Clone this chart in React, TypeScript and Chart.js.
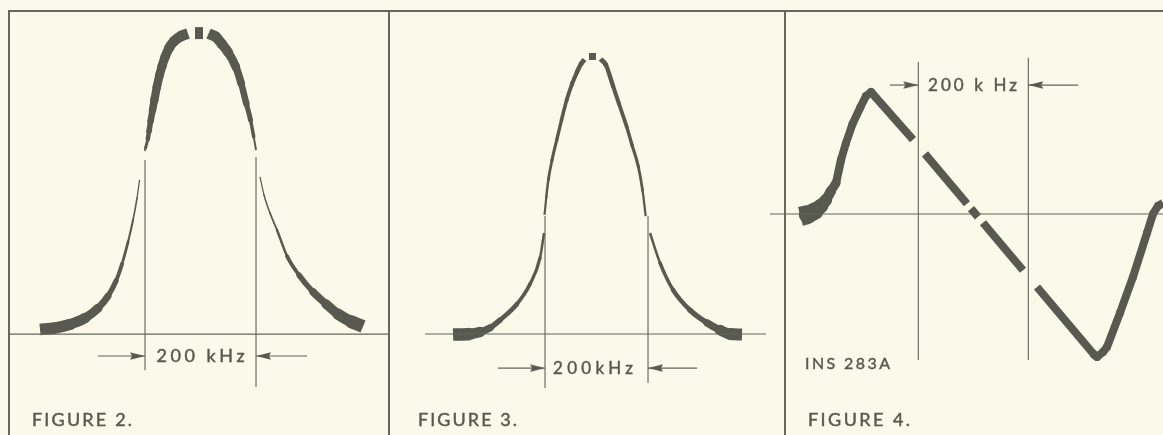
import React, { useEffect, useRef } from "react";
import { Chart, registerables } from "chart.js";

Chart.register(...registerables);

const BG = "#fbf9ea";
const INK = "#585950";
const RULE = "#63645a";
const FONT = "Lato, 'Open Sans', sans-serif";

// ---------- FIGURE 2 : response curve (kHz from centre, % of peak); null = break in the trace
const fig2Freq = [-289.2, -262.2, -235.1, -208.1, -184.7, -166.7, -152.3, -141.4, -130.6, -121.6, -114.4, -109.9, -105, -100.5, -99.1, -95.0, -92.8, -89.9, -86.5, -83.2, -78.7, -73.9, -69.4, -64.0, -56.8, -47.7, -35.1, -22.5, -16, -9.9, 4.5, 9.5, 14.4, 27.9, 38.7, 49.5, 63.6, 73.3, 82.5, 90.1, 95.9, 100, 104, 107.2, 114.4, 125.2, 137.8, 155.9, 177.5, 202.7, 226.1, 247.7, 269.4, 292.8];
const fig2Level = [1.5, 2.0, 3.2, 5.3, 8.6, 12.6, 17.6, 23.3, 30.6, 37.9, 45.2, 51.2, null, 60.8, 61.8, 64.8, 67.4, 70.8, 74.4, 77.7, 82.1, 86.0, 89.0, 92.0, 95.0, 97.3, 99.0, 99.8, null, 100, 100, null, 99.8, 98.7, 96.3, 93.7, 88.8, 83.3, 76.6, 71.1, 65.5, 61.1, null, 52.2, 46.2, 40.2, 34.6, 25.9, 19.6, 14.0, 10.0, 6.6, 4.3, 2.5];
const fig2Weight = [11.5, 11.5, 11, 10, 8, 6, 4.5, 3.2, 2.3, 1.8, 1.4, 1.1, 0, 1.2, 2, 4, 5, 6, 7, 8, 8.5, 8.5, 9, 9, 9.5, 10, 10.5, 11, 0, 12, 12, 0, 11, 10.5, 10, 9.5, 8, 7.3, 5.8, 4.3, 2.7, 1.2, 0, 1.1, 1.3, 1.6, 2, 3, 4.5, 6.5, 8.5, 10.5, 12, 14];
const fig2Markers = [-100, 100];
const fig2MarkerTop = [57.8, 58.8];
const fig2MarkerBottom = [-12, -17.6];
const fig2Axis = [-345, 338];
const fig2ArrowFrom = [-185, 192];
const fig2ArrowLevel = -7.3;

// ---------- FIGURE 3
const fig3Freq = [-278.6, -245.6, -226.2, -206.8, -187.4, -154.4, -129.1, -109.7, -101.9, -101.5, -101.0, -97.5, -93.6, -86.4, -77.3, -68.0, -57.9, -47.6, -37.9, -30.1, -23.3, -18.5, -14.6, -1, 3.4, 7.8, 18.4, 32.0, 43.7, 58.6, 68.9, 81.2, 89.3, 95.5, 99.7, 103.9, 123.3, 148.5, 181.5, 214.6, 239.8, 259.2, 282.5];
const fig3Level = [-0.2, 0, 0.7, 2.2, 5, 10.8, 18, 27.4, 36.4, null, 42.9, 49.4, 55.5, 62.7, 69.9, 77.1, 84.3, 90.1, 94.4, 97.3, 98.9, null, 100, 100, null, 99.1, 96.9, 89.4, 82.9, 74.7, 68.1, 60.3, 51.9, 42.5, null, 36.4, 25.6, 15.9, 8.6, 4, 1.4, 0, -0.2];
const fig3Weight = [13, 12, 9, 6, 5, 4, 3.5, 3, 2, 0, 2, 2.3, 2.6, 3, 3.2, 3.5, 3.7, 4, 4.3, 4.6, 5, 0, 7, 7, 0, 5, 4.6, 4.2, 3.9, 3.6, 3.3, 3, 2.5, 2, 0, 2, 3, 4, 5, 6, 9, 12, 12];
const fig3Markers = [-100, 100];
const fig3MarkerTop = [42.5, 42.5];
const fig3MarkerBottom = [-19.5, -17.7];
const fig3Axis = [-333, 329];
const fig3ArrowFrom = [-191.3, 195.1];
const fig3ArrowLevel = -12.3;

// ---------- FIGURE 4 : discriminator S-curve
const fig4Freq = [-314.2, -300.5, -287.8, -276.9, -267.8, -258.7, -249.6, -240.5, -231.5, -219.6, -205.1, -195.1, -186.0, -109.6, -103, -87.8, -11.5, -8, -4.2, 8.5, 13, 17.6, 90.4, 103, 115.8, 219.4, 224.9, 235.8, 243.1, 266.7, 290.3, 315.8, 326.7, 335.8, 344.9];
const fig4Level = [-2.0, -0.4, 2.5, 6.6, 11.5, 18.9, 25.4, 44.3, 58.2, 73.8, 87.7, 96.7, 100, 60.9, null, 49.3, 8.4, null, 4.4, -2.4, null, -7.2, -46.1, null, -59.8, -115.2, -117.2, -113.1, -109, -81.1, -51.6, -15.6, 0, 6.6, 9];
const fig4Weight = [20, 18.5, 16, 13.5, 11, 9.5, 8.5, 8, 8, 8, 8, 8, 8, 8, 0, 8, 8, 0, 8, 8, 0, 8, 8, 0, 8, 8, 8, 8, 8, 8, 8, 8, 8, 8, 8];
const fig4Markers = [-100, 100];
const fig4MarkerTop = [124.6, 127.9];
const fig4MarkerBottom = [-119.7, -119.7];
const fig4Axis = [-369.6, 344.9];
const fig4ArrowFrom = [-151.4, 190.3];
const fig4ArrowLevel = 105.7;

type TextItem = {
  text: string;
  size: number;
  width: number;
  x?: number;
  y?: number;
  left?: number;
  baseline?: number;
};

function makeTextPlugin(items: TextItem[]) {
  return {
    id: "figureText",
    afterDatasetsDraw(chart: any) {
      const ctx = chart.ctx;
      const xs = chart.scales.x;
      const ys = chart.scales.y;
      for (const t of items) {
        ctx.save();
        ctx.font = `400 ${t.size}px ${FONT}`;
        ctx.fillStyle = INK;
        ctx.strokeStyle = INK;
        ctx.lineWidth = 0.45;
        ctx.textAlign = "left";
        ctx.textBaseline = "alphabetic";
        try { ctx.letterSpacing = "0px"; } catch (e) {}
        const plain = ctx.measureText(t.text).width;
        const gaps = t.text.length - 1;
        const spacing = gaps > 0 ? (t.width - plain) / gaps : 0;
        try { ctx.letterSpacing = `${spacing}px`; } catch (e) {}
        let left: number;
        let base: number;
        if (t.x !== undefined && t.y !== undefined) {
          left = xs.getPixelForValue(t.x) - t.width / 2;
          base = ys.getPixelForValue(t.y) + t.size * 0.36;
        } else {
          left = t.left as number;
          base = t.baseline as number;
        }
        ctx.fillText(t.text, left, base);
        ctx.strokeText(t.text, left, base);
        ctx.restore();
      }
    },
  };
}

function makeHead(len: number, half: number) {
  const c = document.createElement("canvas");
  c.width = len * 2;
  c.height = Math.ceil(half * 2) + 2;
  const g = c.getContext("2d") as CanvasRenderingContext2D;
  const cy = c.height / 2;
  g.fillStyle = INK;
  g.beginPath();
  g.moveTo(len, cy);
  g.lineTo(1, cy - half);
  g.lineTo(3, cy);
  g.lineTo(1, cy + half);
  g.closePath();
  g.fill();
  return c;
}

type FigSpec = {
  freq: number[];
  level: (number | null)[];
  weight: number[];
  smooth: boolean;
  markers: number[];
  markerTop: number[];
  markerBottom: number[];
  axis: number[];
  arrowFrom: number[];
  arrowLevel: number;
  xMin: number;
  xMax: number;
  yMin: number;
  yMax: number;
  texts: TextItem[];
};

function buildConfig(spec: FigSpec, head: HTMLCanvasElement): any {
  const rule = (pts: { x: number; y: number }[], w = 1.2) => ({
    data: pts,
    borderColor: RULE,
    borderWidth: w,
    pointRadius: 0,
    tension: 0,
    fill: false,
  });
  const datasets: any[] = [];
  datasets.push(rule([{ x: spec.axis[0], y: 0 }, { x: spec.axis[1], y: 0 }]));
  spec.markers.forEach((m, i) => {
    datasets.push(rule([{ x: m, y: spec.markerTop[i] }, { x: m, y: spec.markerBottom[i] }], 1.1));
  });
  datasets.push({
    ...rule([{ x: spec.arrowFrom[0], y: spec.arrowLevel }, { x: spec.markers[0], y: spec.arrowLevel }]),
    pointRadius: [0, 5],
    pointStyle: head,
    pointRotation: 0,
  });
  datasets.push({
    ...rule([{ x: spec.markers[1], y: spec.arrowLevel }, { x: spec.arrowFrom[1], y: spec.arrowLevel }]),
    pointRadius: [5, 0],
    pointStyle: head,
    pointRotation: 180,
  });
  const lv = spec.level;
  const wt = spec.weight;
  const isEdge = (c: any) => lv[c.p0DataIndex - 1] == null || lv[c.p1DataIndex + 1] == null;
  datasets.push({
    data: spec.freq.map((x, i) => ({ x, y: lv[i] })),
    borderColor: INK,
    borderWidth: 8,
    spanGaps: false,
    fill: false,
    tension: 0,
    cubicInterpolationMode: spec.smooth ? "monotone" : "default",
    borderJoinStyle: "round",
    borderCapStyle: "butt",
    pointStyle: "circle",
    pointBorderWidth: 0,
    pointBackgroundColor: INK,
    pointBorderColor: INK,
    pointRadius: (c: any) => {
      const i = c.dataIndex;
      if (lv[i] == null || lv[i - 1] == null || lv[i + 1] == null) return 0;
      return wt[i] / 2;
    },
    segment: {
      borderWidth: (c: any) => (wt[c.p0DataIndex] + wt[c.p1DataIndex]) / 2,
      borderCapStyle: (c: any) => (isEdge(c) ? "butt" : "round"),
      borderColor: INK,
      borderJoinStyle: "round",
    },
  });
  return {
    type: "line",
    data: { datasets },
    options: {
      animation: false,
      responsive: false,
      maintainAspectRatio: false,
      events: [],
      layout: { padding: 0, autoPadding: false },
      plugins: { legend: { display: false }, tooltip: { enabled: false }, title: { display: false } },
      scales: {
        x: { type: "linear", display: false, min: spec.xMin, max: spec.xMax },
        y: { type: "linear", display: false, min: spec.yMin, max: spec.yMax },
      },
    },
    plugins: [makeTextPlugin(spec.texts)],
  };
}

const specs: FigSpec[] = [
  {
    freq: fig2Freq, level: fig2Level, weight: fig2Weight, smooth: true,
    markers: fig2Markers, markerTop: fig2MarkerTop, markerBottom: fig2MarkerBottom,
    axis: fig2Axis, arrowFrom: fig2ArrowFrom, arrowLevel: fig2ArrowLevel,
    xMin: -361.3, xMax: 337.8, yMin: -33.55, yMax: 111.0,
    texts: [
      { text: "200 kHz", size: 18, width: 88, x: 0, y: fig2ArrowLevel },
      { text: "FIGURE 2.", size: 18, width: 100, left: 32, baseline: 426 },
    ],
  },
  {
    freq: fig3Freq, level: fig3Level, weight: fig3Weight, smooth: true,
    markers: fig3Markers, markerTop: fig3MarkerTop, markerBottom: fig3MarkerBottom,
    axis: fig3Axis, arrowFrom: fig3ArrowFrom, arrowLevel: fig3ArrowLevel,
    xMin: -401.0, xMax: 348.5, yMin: -36.4, yMax: 120.36,
    texts: [
      { text: "200kHz", size: 17, width: 80, x: -6.8, y: fig3ArrowLevel },
      { text: "FIGURE 3.", size: 18, width: 99, left: 28, baseline: 426 },
    ],
  },
  {
    freq: fig4Freq, level: fig4Level, weight: fig4Weight, smooth: false,
    markers: fig4Markers, markerTop: fig4MarkerTop, markerBottom: fig4MarkerBottom,
    axis: fig4Axis, arrowFrom: fig4ArrowFrom, arrowLevel: fig4ArrowLevel,
    xMin: -376.9, xMax: 344.9, yMin: -181.15, yMax: 175.41,
    texts: [
      { text: "200 k Hz", size: 17, width: 89, x: -1.5, y: fig4ArrowLevel },
      { text: "INS 283A", size: 16, width: 85, left: 39, baseline: 369 },
      { text: "FIGURE 4.", size: 18, width: 102, left: 42, baseline: 426 },
    ],
  },
];

const canvasBoxes = [
  { left: 0, width: 388 },
  { left: 390, width: 386 },
  { left: 766, width: 397 },
];

export default function App() {
  const r0 = useRef<HTMLCanvasElement>(null);
  const r1 = useRef<HTMLCanvasElement>(null);
  const r2 = useRef<HTMLCanvasElement>(null);

  useEffect(() => {
    document.body.style.margin = "0";
    document.body.style.background = BG;
    const head = makeHead(16, 3.8);
    const refs = [r0, r1, r2];
    const charts = refs.map((r, i) => new Chart(r.current as HTMLCanvasElement, buildConfig(specs[i], head)));
    return () => charts.forEach((c) => c.destroy());
  }, []);

  const refs = [r0, r1, r2];
  const border = "#66675d";
  return (
    <div style={{ position: "fixed", left: 0, top: 0, width: 1163, height: 435, background: BG, overflow: "hidden" }}>
      <div style={{ position: "absolute", left: 8, top: 10, width: 1155, height: 2, background: border }} />
      <div style={{ position: "absolute", left: 8, top: 10, width: 2, height: 425, background: border }} />
      <div style={{ position: "absolute", left: 388, top: 10, width: 2, height: 425, background: border }} />
      <div style={{ position: "absolute", left: 784, top: 10, width: 2, height: 425, background: border }} />
      {canvasBoxes.map((b, i) => (
        <canvas
          key={i}
          ref={refs[i]}
          width={b.width}
          height={435}
          style={{ position: "absolute", left: b.left, top: 0, width: b.width, height: 435 }}
        />
      ))}
    </div>
  );
}
